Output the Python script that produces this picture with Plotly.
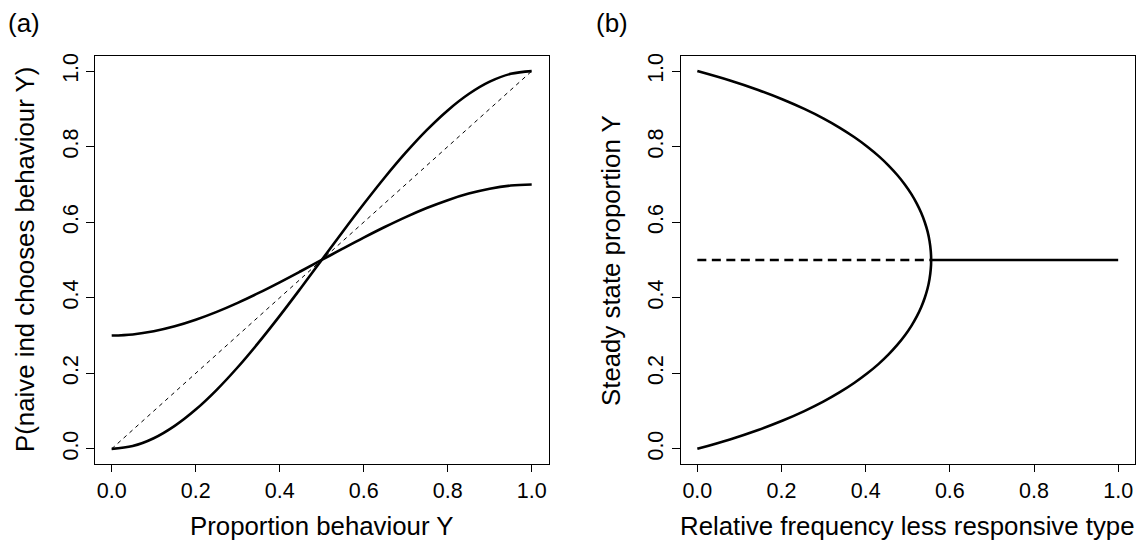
import plotly.graph_objects as go

# ---------------- data ----------------
# Panel (a): proportion of behaviour Y vs probability naive individual chooses Y
prop_y = [0.0, 0.05, 0.1, 0.15, 0.2, 0.25, 0.3, 0.35, 0.4, 0.45, 0.5,
          0.55, 0.6, 0.65, 0.7, 0.75, 0.8, 0.85, 0.9, 0.95, 1.0]
p_conformist = [0.0, 0.0073, 0.028, 0.0608, 0.104, 0.1563, 0.216, 0.2818, 0.352, 0.4253, 0.5,
                0.5748, 0.648, 0.7183, 0.784, 0.8438, 0.896, 0.9393, 0.972, 0.9928, 1.0]
p_less_responsive = [0.3, 0.3029, 0.3112, 0.3243, 0.3416, 0.3625, 0.3864, 0.4127, 0.4408, 0.4701, 0.5,
                     0.5299, 0.5592, 0.5873, 0.6136, 0.6375, 0.6584, 0.6757, 0.6888, 0.6971, 0.7]
diag_x = [0.0, 1.0]
diag_y = [0.0, 1.0]

# Panel (b): steady state proportion Y vs relative frequency of less responsive type
upper_y = [1.0, 0.975, 0.95, 0.925, 0.9, 0.875, 0.85, 0.825, 0.8, 0.775, 0.75, 0.725,
           0.7, 0.675, 0.65, 0.625, 0.6, 0.575, 0.55, 0.525, 0.5]
branch_freq = [0.0, 0.0775, 0.1446, 0.2031, 0.2542, 0.2992, 0.3386, 0.3734, 0.404, 0.431, 0.4545, 0.4751,
               0.493, 0.5083, 0.5212, 0.5319, 0.5405, 0.5472, 0.5518, 0.5546, 0.5556]
lower_y = [0.0, 0.025, 0.05, 0.075, 0.1, 0.125, 0.15, 0.175, 0.2, 0.225, 0.25, 0.275,
           0.3, 0.325, 0.35, 0.375, 0.4, 0.425, 0.45, 0.475, 0.5]
unstable_x = [0.0, 0.5556]
unstable_y = [0.5, 0.5]
stable_mid_x = [0.5556, 1.0]
stable_mid_y = [0.5, 0.5]

tick_vals = [0.0, 0.2, 0.4, 0.6, 0.8, 1.0]
tick_text = ["0.0", "0.2", "0.4", "0.6", "0.8", "1.0"]

# ---------------- figure ----------------
W, H = 1139, 545
FONT = "Liberation Sans, Arial, Helvetica, sans-serif"
LW = 2.6

fig = go.Figure()

# panel (a)
fig.add_trace(go.Scatter(x=diag_x, y=diag_y, mode="lines",
                         line=dict(color="black", width=1, dash="4px,4px"),
                         xaxis="x", yaxis="y", hoverinfo="skip"))
fig.add_trace(go.Scatter(x=prop_y, y=p_conformist, mode="lines",
                         line=dict(color="black", width=LW, shape="spline"),
                         xaxis="x", yaxis="y"))
fig.add_trace(go.Scatter(x=prop_y, y=p_less_responsive, mode="lines",
                         line=dict(color="black", width=LW, shape="spline"),
                         xaxis="x", yaxis="y"))

# panel (b)
fig.add_trace(go.Scatter(x=unstable_x, y=unstable_y, mode="lines",
                         line=dict(color="black", width=LW, dash="9px,5.5px"),
                         xaxis="x2", yaxis="y2"))
fig.add_trace(go.Scatter(x=stable_mid_x, y=stable_mid_y, mode="lines",
                         line=dict(color="black", width=LW),
                         xaxis="x2", yaxis="y2"))
fig.add_trace(go.Scatter(x=branch_freq + branch_freq[::-1][1:],
                         y=upper_y + lower_y[::-1][1:], mode="lines",
                         line=dict(color="black", width=LW, shape="spline"),
                         xaxis="x2", yaxis="y2"))

def px_x(v):
    return v / W

def px_y(v):
    return 1 - v / H

y_dom = [px_y(463.5), px_y(53.3)]

axis_common = dict(range=[-0.04, 1.04], tickmode="array", tickvals=tick_vals, ticktext=tick_text,
                   ticks="outside", ticklen=7.5, tickwidth=1, tickcolor="black",
                   showline=True, linecolor="black", linewidth=1, mirror=True,
                   showgrid=False, zeroline=False,
                   tickfont=dict(family=FONT, size=21.5, color="black"))

fig.update_layout(
    width=W, height=H,
    margin=dict(l=0, r=0, t=0, b=0),
    paper_bgcolor="white", plot_bgcolor="white",
    showlegend=False,
    xaxis=dict(domain=[px_x(94.9), px_x(548.5)], anchor="y", **axis_common),
    yaxis=dict(domain=y_dom, anchor="x", tickangle=-90, **axis_common),
    xaxis2=dict(domain=[px_x(680.5), px_x(1135.0)], anchor="y2", **axis_common),
    yaxis2=dict(domain=y_dom, anchor="x2", tickangle=-90, **axis_common),
)

ann_font = dict(family=FONT, size=25.8, color="black")
annotations = [
    dict(text="(a)", x=px_x(6), y=px_y(20), xanchor="left", yanchor="middle",
         font=dict(family=FONT, size=26, color="black")),
    dict(text="(b)", x=px_x(594), y=px_y(20), xanchor="left", yanchor="middle",
         font=dict(family=FONT, size=26, color="black")),
    dict(text="Proportion behaviour Y", x=px_x(321.7), y=px_y(526), xanchor="center", yanchor="middle",
         font=ann_font),
    dict(text="Relative frequency less responsive type", x=px_x(907.8), y=px_y(526),
         xanchor="center", yanchor="middle", font=ann_font),
    dict(text="P(naive ind chooses behaviour Y)", x=px_x(25), y=px_y(258.4), textangle=-90,
         xanchor="center", yanchor="middle", font=ann_font),
    dict(text="Steady state proportion Y", x=px_x(611), y=px_y(258.4), textangle=-90,
         xanchor="center", yanchor="middle", font=ann_font),
]
for a in annotations:
    a.update(xref="paper", yref="paper", showarrow=False)
fig.update_layout(annotations=annotations)

fig.write_html("out.html", config={"displayModeBar": False},
               post_script="document.body.style.margin='0';document.body.style.padding='0';")
